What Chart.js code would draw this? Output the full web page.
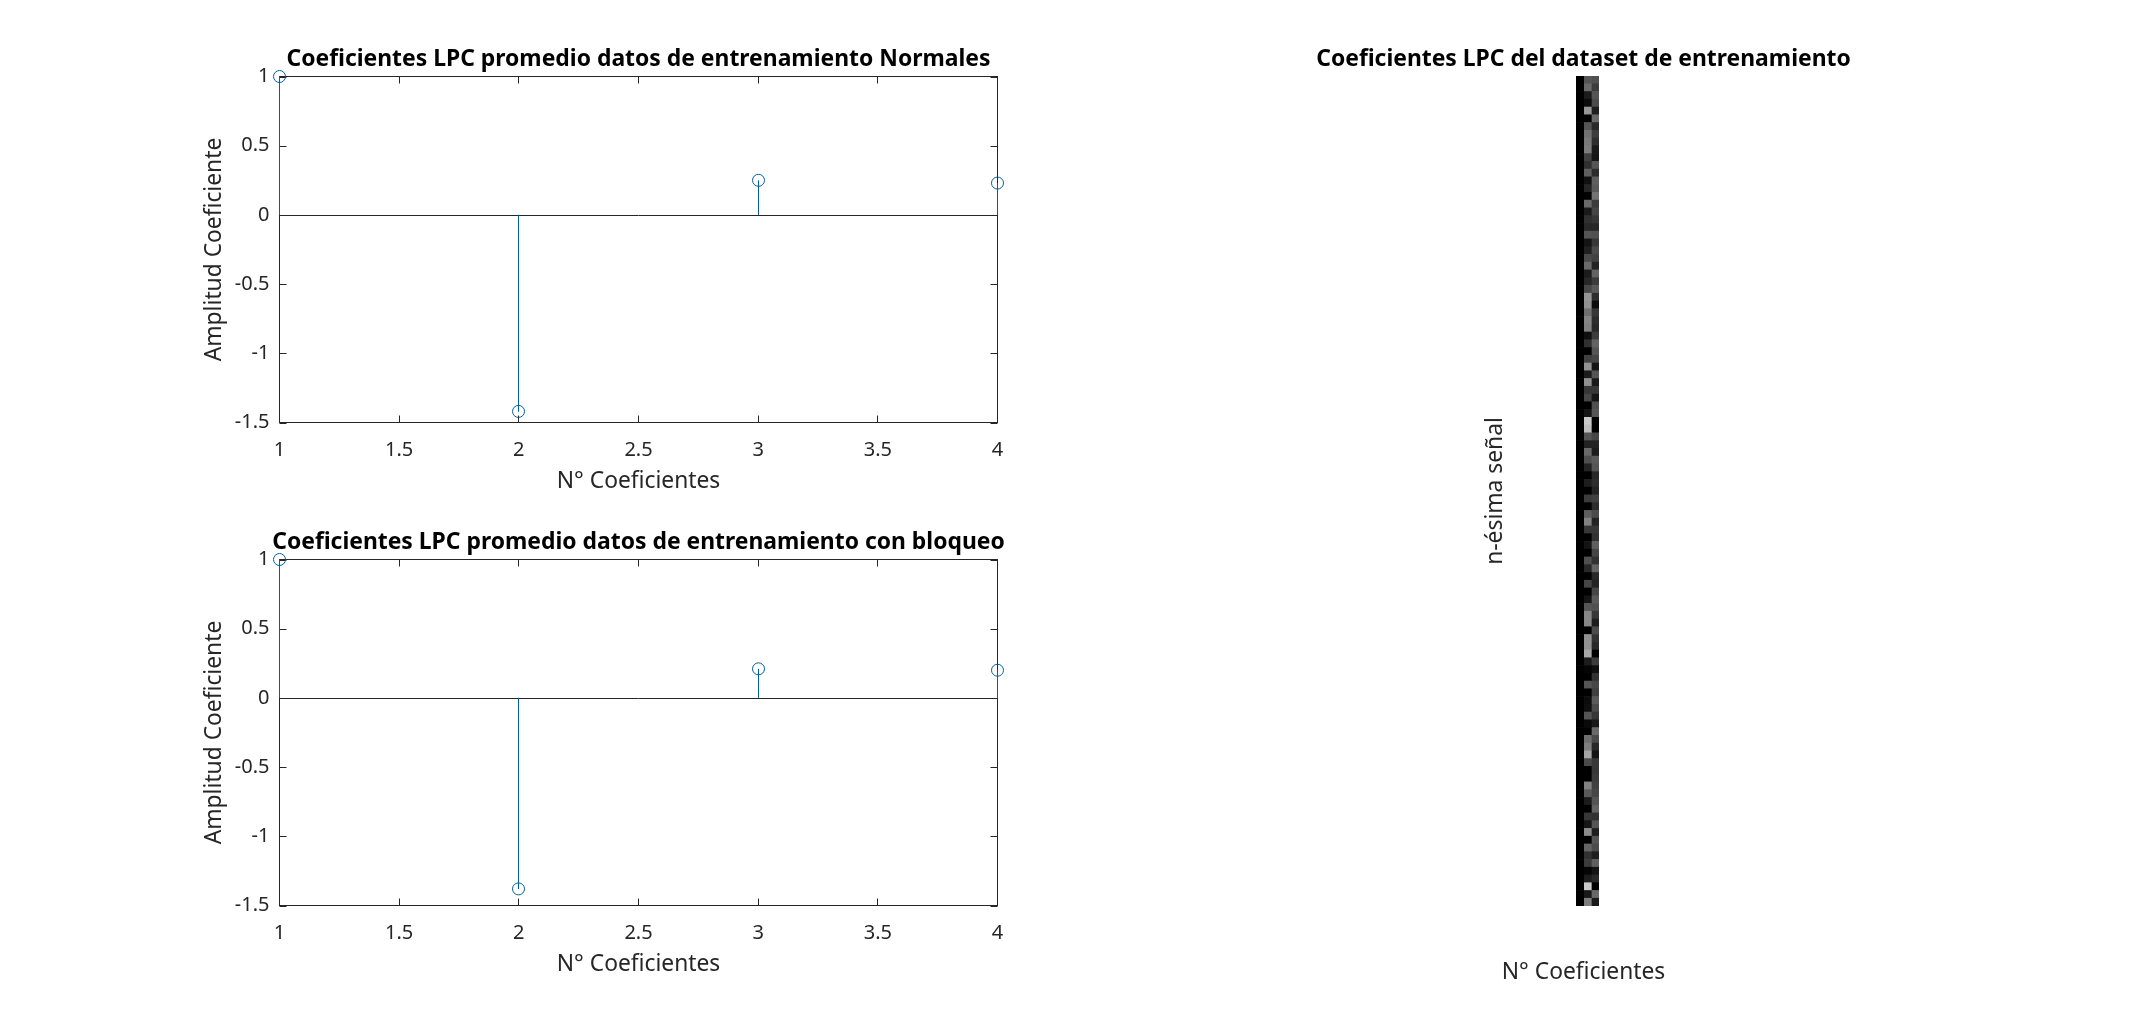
<!DOCTYPE html>
<html>
<head>
<meta charset="utf-8">
<title>Coeficientes LPC</title>
<script src="https://cdn.jsdelivr.net/npm/chart.js@4"></script>
<style>
  html, body { margin: 0; padding: 0; background: #fff; }
</style>
</head>
<body>
<canvas id="normales" width="1277" height="500" style="position:absolute;left:0;top:0"></canvas>
<canvas id="bloqueo" width="1277" height="500" style="position:absolute;left:0;top:483px"></canvas>
<canvas id="dataset" width="1093" height="990" style="position:absolute;left:1037px;top:0"></canvas>
<script>
// datos
const coefs = [1, 2, 3, 4];
const lpcNormales = [1, -1.42, 0.25, 0.23];
const lpcBloqueo = [1, -1.38, 0.21, 0.20];
const xTicks = [1, 1.5, 2, 2.5, 3, 3.5, 4];
const yTicks = [-1.5, -1, -0.5, 0, 0.5, 1];

// imagen: nivel de gris de cada señal (0-255), una lista por coeficiente
const grayCoef1 = [
  0,0,0,0,0,0,0,0,0,0,0,0,0,0,0,0,0,0,0,0,0,0,0,0,0,0,0,0,0,0,0,0,0,0,0,
  0,0,0,0,0,0,0,0,0,0,0,0,0,0,0,0,0,0,0,0,0,0,0,0,0,0,0,0,0,0,0,0,0,0,0,0,0,0,0,
  0,0,0,0,0,0,0,0,0,0,0,0,0,0,0,0,0,0,0,0,0,0,0,0,0,0,0,0,0,0,0,0,0
];
const grayCoef2 = [
  85,106,28,12,150,0,85,112,120,124,64,48,96,16,37,2,106,26,48,40,85,20,32,74,106,28,40,72,149,144,112,133,128,15,48,
  0,65,145,28,145,55,70,0,20,200,190,85,35,105,80,35,0,30,0,60,0,95,130,55,0,20,0,80,40,0,70,0,20,85,135,135,0,145,145,
  168,28,5,0,85,0,12,15,85,10,0,110,125,165,75,0,0,130,90,28,0,55,22,140,0,100,50,60,5,28,200,25,125
];
const grayCoef3 = [
  80,60,85,75,30,105,40,60,45,25,22,85,45,95,90,115,60,70,55,40,80,55,75,65,35,100,60,90,45,12,55,45,40,60,100,
  85,70,20,85,25,55,22,80,85,0,0,70,35,28,90,85,40,45,35,65,45,75,35,55,50,95,70,50,100,40,35,70,90,80,55,30,75,50,40,
  0,60,15,50,70,65,90,75,55,25,105,75,40,20,55,55,60,65,70,85,100,50,85,30,85,75,30,95,20,40,0,105,25
];
const senales = grayCoef2.map((_, i) => i + 1);

const FONT = '"Noto Sans", sans-serif';
const TEXT = '#262626';
const BLUE = '#00609F';
const PLOT_LEFT = 279.5, PLOT_TOP = 76.5, PLOT_H = 346;

// caja, linea base y ticks hacia adentro, como en Matlab
const matlabBox = {
  id: 'matlabBox',
  beforeDatasetsDraw(chart) {
    const { ctx, chartArea: a, scales } = chart;
    // stems nitidos: cada punto cae en el centro de un pixel
    chart.data.datasets.forEach((_, i) => {
      chart.getDatasetMeta(i).data.forEach(p => { p.x = Math.floor(p.x) + 0.5; });
    });
    ctx.save();
    ctx.strokeStyle = TEXT;
    ctx.lineWidth = 1;
    ctx.strokeRect(a.left, a.top, a.width, a.height);
    ctx.beginPath();
    scales.x.ticks.forEach(t => {
      const px = Math.floor(scales.x.getPixelForValue(t.value)) + 0.5;
      ctx.moveTo(px, a.bottom); ctx.lineTo(px, a.bottom - 7);
      ctx.moveTo(px, a.top); ctx.lineTo(px, a.top + 7);
    });
    scales.y.ticks.forEach(t => {
      const py = Math.round(scales.y.getPixelForValue(t.value)) + 0.5;
      ctx.moveTo(a.left, py); ctx.lineTo(a.left + 7, py);
      ctx.moveTo(a.right, py); ctx.lineTo(a.right - 7, py);
    });
    const y0 = Math.round(scales.y.getPixelForValue(0)) + 0.5;
    ctx.moveTo(a.left, y0); ctx.lineTo(a.right, y0);
    ctx.stroke();
    ctx.restore();
  }
};

// eje vacio a la derecha: deja el titulo centrado en el canvas
const rightSpacer = w => ({
  type: 'linear',
  position: 'right',
  afterFit: s => { s.width = w; },
  grid: { display: false },
  border: { display: false },
  ticks: { display: false }
});

window.stemChart = function(selectId, values, titulo) {
  const stems = coefs.map((c, i) => ({
    data: [{ x: c, y: 0 }, { x: c, y: values[i] }],
    showLine: true,
    borderColor: BLUE,
    borderWidth: 1,
    pointRadius: 0,
    clip: false
  }));
  new Chart(selectId, {
    type: 'scatter',
    plugins: [matlabBox],
    data: {
      datasets: [
        ...stems,
        {
          data: coefs.map((c, i) => ({ x: c, y: values[i] })),
          showLine: false,
          pointStyle: 'circle',
          pointRadius: 6,
          pointBorderWidth: 1,
          pointBorderColor: BLUE,
          pointBackgroundColor: 'rgba(0,0,0,0)',
          clip: false
        }
      ]
    },
    options: {
      responsive: false,
      animation: false,
      events: [],
      plugins: {
        legend: { display: false },
        tooltip: { enabled: false },
        title: {
          display: true,
          text: titulo,
          color: '#000',
          font: { family: FONT, size: 22.9, weight: 'bold' },
          padding: { top: 46, bottom: PLOT_TOP - 46 - 27.48 }
        }
      },
      scales: {
        x: {
          type: 'linear',
          min: 1,
          max: 4,
          afterBuildTicks: s => { s.ticks = xTicks.map(v => ({ value: v })); },
          afterFit: s => { s.height = 500 - PLOT_TOP - PLOT_H; },
          grid: { display: false },
          border: { display: false },
          ticks: {
            color: TEXT, maxRotation: 0, padding: 8,
            font: { family: FONT, size: 20 },
            callback: v => String(v)
          },
          title: {
            display: true,
            text: 'N° Coeficientes',
            color: TEXT,
            font: { family: FONT, size: 22.8 },
            padding: { top: 0, bottom: 5.3 }
          }
        },
        y: {
          type: 'linear',
          min: -1.5,
          max: 1,
          afterBuildTicks: s => { s.ticks = yTicks.map(v => ({ value: v })); },
          afterFit: s => { s.width = PLOT_LEFT; },
          grid: { display: false },
          border: { display: false },
          ticks: {
            color: TEXT, padding: 2,
            font: { family: FONT, size: 20 },
            callback: v => String(v)
          },
          title: {
            display: true,
            text: 'Amplitud Coeficiente',
            color: TEXT,
            font: { family: FONT, size: 22.8 },
            padding: { top: 200.5, bottom: 0 }
          }
        },
        y2: rightSpacer(PLOT_LEFT)
      }
    }
  });
};

stemChart('normales', lpcNormales, 'Coeficientes LPC promedio datos de entrenamiento Normales');
stemChart('bloqueo', lpcBloqueo, 'Coeficientes LPC promedio datos de entrenamiento con bloqueo');

const grayOf = col => ctx => {
  const g = col[ctx.dataIndex];
  return 'rgb(' + g + ',' + g + ',' + g + ')';
};

new Chart('dataset', {
  type: 'bar',
  data: {
    labels: senales,
    datasets: [grayCoef1, grayCoef2, grayCoef3].map(col => ({
      data: senales.map(() => 1),
      backgroundColor: grayOf(col),
      borderWidth: 0,
      barPercentage: 1,
      categoryPercentage: 1
    }))
  },
  options: {
    indexAxis: 'y',
    responsive: false,
    animation: false,
    events: [],
    plugins: {
      legend: { display: false },
      tooltip: { enabled: false },
      title: {
        display: true,
        text: 'Coeficientes LPC del dataset de entrenamiento',
        color: '#000',
        font: { family: FONT, size: 22.9, weight: 'bold' },
        padding: { top: 46, bottom: 76 - 46 - 27.48 }
      },
      subtitle: {
        display: true,
        position: 'bottom',
        text: 'N° Coeficientes',
        color: TEXT,
        font: { family: FONT, size: 22.8 },
        padding: { top: 52.65, bottom: 4 }
      }
    },
    scales: {
      x: {
        display: false,
        stacked: true,
        min: 0,
        max: 3
      },
      y: {
        stacked: true,
        afterFit: s => { s.width = 539; },
        grid: { display: false },
        border: { display: false },
        ticks: { display: false },
        title: {
          display: true,
          text: 'n-ésima señal',
          color: TEXT,
          font: { family: FONT, size: 22.8 },
          padding: { top: 445, bottom: 0 }
        }
      },
      y2: rightSpacer(531)
    }
  }
});
</script>
</body>
</html>
